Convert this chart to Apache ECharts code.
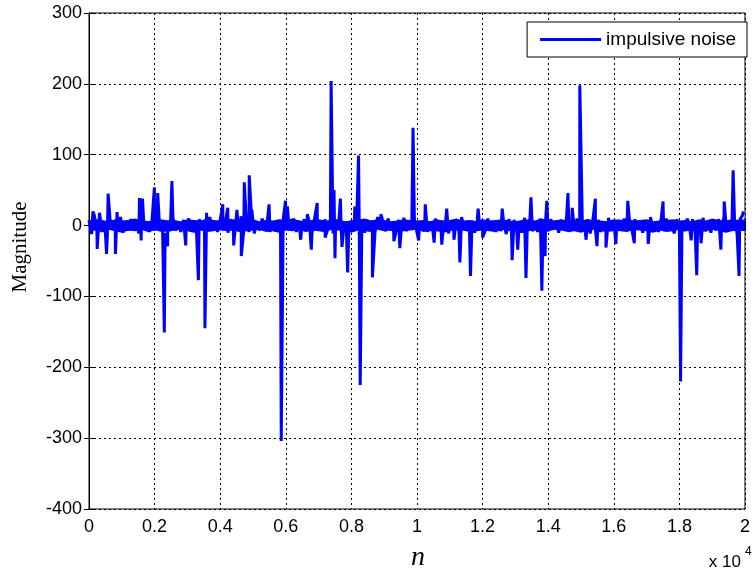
<!DOCTYPE html>
<html>
<head>
<meta charset="utf-8">
<script src="https://cdn.jsdelivr.net/npm/echarts@6/dist/echarts.min.js"></script>
<style>
  html, body { margin: 0; padding: 0; background: #fff; }
  #chart { width: 753px; height: 571px; }
</style>
</head>
<body>
<div id="chart"></div>
<script>
var bandStep = 80;
var bandVals = [
  8, -12, 15, -6, 18, -9, 6, -14, 10, -5, 7, -8, 12, -10, 4, -7, 9, -6, 5, -11, 8, -4, 6, -9, 7,
  -6, 9, -8, 5, -10, 7, -5, 11, -7, 6, -9, 8, -4, 10, -8, 6, -12, 9, -5, 7, -8, 12, -6, 5, -9,
  8, -7, 6, -10, 9, -5, 7, -8, 13, -6, 5, -9, 8, -11, 6, -7, 10, -5, 8, -9, 6, -8, 7, -12, 9,
  -6, 8, -5, 10, -9, 7, -6, 9, -8, 5, -10, 11, -7, 6, -8, 9, -5, 7, -11, 8, -6, 10, -7, 5, -9,
  7, -8, 6, -5, 9, -10, 8, -6, 7, -9, 12, -5, 6, -8, 10, -7, 5, -9, 8, -6, 11, -8, 7, -5, 9,
  -10, 6, -7, 8, -9, 5, -6, 10, -8, 7, -5, 9, -11, 6, -7, 8, -9, 12, -6, 5, -8, 7, -10, 9, -5,
  8, -7, 10, -6, 5, -9, 7, -8, 6, -12, 9, -5, 8, -7, 6, -10, 11, -6, 7, -8, 5, -9, 10, -7, 6,
  -8, 9, -5, 7, -10, 8, -6, 12, -9, 5, -7, 10, -8, 6, -5, 9, -11, 7, -6, 8, -9, 5, -7, 11, -8,
  6, -9, 8, -5, 10, -7, 6, -8, 9, -6, 7, -10, 5, -8, 12, -7, 6, -9, 8, -5, 10, -6, 7, -11, 9,
  -7, 6, -8, 10, -5, 9, -9, 7, -6, 11, -8, 5, -10, 8, -7, 9, -6, 12, -9, 7, -5, 10, -12, 8, 14
];

// solid core of the noise band (upper / lower edge every 200 samples)
var envStep = 200;
var envHi = [
  7, 9, 8, 6, 9, 7, 8, 10, 7, 6,
  8, 9, 7, 8, 6, 9, 8, 7, 10, 8,
  7, 6, 9, 8, 7, 9, 6, 8, 7, 9,
  8, 10, 7, 6, 8, 9, 7, 8, 9, 6,
  7, 8, 10, 7, 9, 8, 6, 7, 9, 8,
  7, 8, 6, 9, 7, 8, 10, 7, 8, 6,
  9, 7, 8, 9, 7, 6, 8, 9, 7, 10,
  8, 7, 9, 6, 8, 7, 9, 8, 7, 6,
  9, 8, 10, 7, 8, 9, 6, 7, 8, 9,
  7, 8, 6, 9, 7, 10, 8, 7, 9, 8,
  9
];
var envLo = [
  -8, -7, -9, -6, -8, -10, -7, -8, -6, -9,
  -7, -8, -9, -7, -6, -8, -10, -7, -9, -8,
  -6, -8, -7, -9, -8, -7, -6, -9, -8, -10,
  -7, -8, -6, -9, -7, -8, -9, -6, -7, -8,
  -10, -7, -8, -9, -6, -8, -7, -9, -8, -7,
  -6, -9, -8, -7, -10, -8, -6, -7, -9, -8,
  -7, -8, -9, -6, -8, -7, -10, -8, -7, -9,
  -8, -6, -7, -9, -8, -10, -7, -6, -8, -9,
  -7, -8, -9, -6, -7, -8, -10, -7, -9, -8,
  -6, -8, -7, -9, -8, -6, -7, -10, -8, -7,
  -8
];

// impulses: sample index and amplitude
var spikeN = [
  120, 250, 535, 583, 805, 856, 1540, 1590, 1630, 1994, 2095, 2296, 2397, 2528, 2950,
  3335, 3535, 3585, 4079, 4230, 4411, 4511, 4643, 4734, 4885, 4965, 5489, 5861, 5992,
  6050, 6455, 6655, 6777, 6958, 7200, 7382, 7470, 7500, 7664, 7713, 7885, 8106, 8218,
  8269, 8640, 8900, 9296, 9477, 9879, 10050, 10251, 10523, 10755, 10906, 11127, 11308,
  11631, 11864, 12000, 12598, 12900, 13072, 13323, 13474, 13807, 13907, 13958, 14601,
  14733, 14964, 15156, 15438, 15488, 15761, 16063, 16426, 16626, 17049, 17502, 18036,
  18359, 18529, 18661, 19265, 19366, 19638, 19819, 19950
];
var spikeVal = [
  20, -33, -40, 45, -40, 19, 39, -21, 38, 54, 46, -151, -29, 63, -28,
  -77, -145, 18, 30, 25, -28, 22, -43, 61, 71, 22, 30, -304, 35,
  27, -20, 16, -34, 32, -17, 204, 50, -46, 38, -30, -66, 27, 99,
  -225, -73, 16, -22, -32, 138, -21, 30, -24, -27, 24, -20, -52,
  -71, 24, -17, 24, -49, -34, -74, 40, -92, -43, 35, 46,
  25, 198, -20, 38, -29, -31, -26, 35, -25, -26, 34, -220,
  -21, -70, -25, -34, 34, 78, -71, 20
];

var yTicks = { min: -400, max: 300, step: 100 };
var xTicks = { min: 0, max: 20000, step: 2000 };

var points = [];
for (var i = 0; i < bandVals.length; i++) {
  points.push([i * bandStep, bandVals[i]]);
}
for (var j = 0; j < spikeN.length; j++) {
  points.push([spikeN[j], spikeVal[j]]);
}
points.sort(function (a, b) { return a[0] - b[0]; });

var myChart = echarts.init(document.getElementById('chart'));

var tickFont = { color: '#000', fontSize: 18, fontFamily: 'Liberation Sans, Arial, sans-serif' };
var blue = '#0000ff';

var option = {
  animation: false,
  backgroundColor: '#fff',
  grid: {
    left: 89, right: 2, top: 13, bottom: 62,
    show: true, borderColor: '#000', borderWidth: 1
  },
  legend: {
    data: [{ name: 'impulsive noise', icon: 'rect' }],
    right: 6,
    top: 22,
    itemWidth: 61,
    itemHeight: 3,
    padding: [8, 11, 8, 13],
    borderColor: '#000',
    borderWidth: 1,
    backgroundColor: '#fff',
    textStyle: { color: '#000', fontSize: 19, fontFamily: 'Liberation Sans, Arial, sans-serif' }
  },
  xAxis: [
    {
      type: 'value',
      min: xTicks.min, max: xTicks.max, interval: xTicks.step,
      axisLine: { show: true, lineStyle: { color: '#000', width: 1 } },
      axisTick: { show: true, inside: true, length: 5, lineStyle: { color: '#000' } },
      axisLabel: Object.assign({
        margin: 9,
        formatter: function (v) { return String(Math.round(v / 1000) / 10); }
      }, tickFont),
      splitLine: { show: true, lineStyle: { color: '#000', type: [2, 3], width: 1 } }
    },
    {
      type: 'value', position: 'top',
      min: xTicks.min, max: xTicks.max, interval: xTicks.step,
      axisLine: { show: true, lineStyle: { color: '#000' } },
      axisTick: { show: true, inside: true, length: 5, lineStyle: { color: '#000' } },
      axisLabel: { show: false },
      splitLine: { show: false }
    }
  ],
  yAxis: [
    {
      type: 'value',
      min: yTicks.min, max: yTicks.max, interval: yTicks.step,
      axisLine: { show: true, lineStyle: { color: '#000', width: 1 } },
      axisTick: { show: true, inside: true, length: 5, lineStyle: { color: '#000' } },
      axisLabel: Object.assign({ margin: 7 }, tickFont),
      splitLine: { show: true, lineStyle: { color: '#000', type: [2, 3], width: 1 } }
    },
    {
      type: 'value', position: 'right',
      min: yTicks.min, max: yTicks.max, interval: yTicks.step,
      axisLine: { show: true, lineStyle: { color: '#000' } },
      axisTick: { show: true, inside: true, length: 5, lineStyle: { color: '#000' } },
      axisLabel: { show: false },
      splitLine: { show: false }
    }
  ],
  graphic: [
    {
      type: 'text', x: 20, y: 247, rotation: Math.PI / 2,
      style: {
        text: 'Magnitude', fill: '#000', fontSize: 21,
        fontFamily: 'Liberation Serif, Times New Roman, serif',
        align: 'center', verticalAlign: 'middle'
      }
    },
    {
      type: 'text', x: 418, y: 558,
      style: {
        text: 'n', fill: '#000', fontSize: 28, fontStyle: 'italic',
        fontFamily: 'Liberation Serif, Times New Roman, serif',
        align: 'center', verticalAlign: 'middle'
      }
    },
    {
      type: 'text', x: 741, y: 562,
      style: {
        text: 'x 10', fill: '#000', fontSize: 17,
        fontFamily: 'Liberation Sans, Arial, sans-serif',
        align: 'right', verticalAlign: 'middle'
      }
    },
    {
      type: 'text', x: 745, y: 552,
      style: {
        text: '4', fill: '#000', fontSize: 12,
        fontFamily: 'Liberation Sans, Arial, sans-serif',
        align: 'left', verticalAlign: 'middle'
      }
    }
  ],
  series: [
    {
      // dense core of the noise band
      type: 'custom',
      silent: true,
      data: [[0, 0]],
      z: 2,
      renderItem: function (params, api) {
        var pts = [];
        for (var k = 0; k < envHi.length; k++) {
          pts.push(api.coord([k * envStep, envHi[k]]));
        }
        for (var m = envLo.length - 1; m >= 0; m--) {
          pts.push(api.coord([m * envStep, envLo[m]]));
        }
        return { type: 'polygon', shape: { points: pts }, style: { fill: blue } };
      }
    },
    {
      name: 'impulsive noise',
      type: 'line',
      data: points,
      showSymbol: false,
      symbol: 'none',
      sampling: null,
      z: 3,
      color: blue,
      lineStyle: { color: blue, width: 3 }
    }
  ]
};

myChart.setOption(option, true);
</script>
</body>
</html>
